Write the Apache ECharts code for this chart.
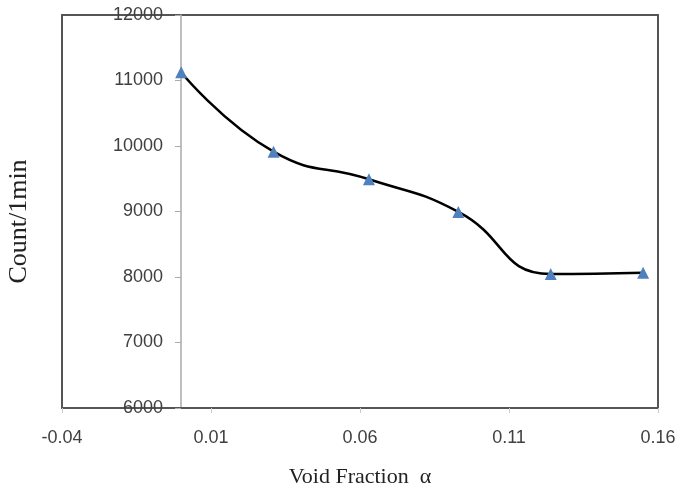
<!DOCTYPE html>
<html>
<head>
    <meta charset="utf-8">
    <title>ECharts</title>
    <script src="https://cdn.jsdelivr.net/npm/echarts@6/dist/echarts.min.js"></script>
</head>
<body style="margin:0;background:#fff">
    <div id="main" style="width:676px;height:488px;"></div>
    <script type="text/javascript">
        var voidFraction = [0, 0.031, 0.063, 0.093, 0.124, 0.155];
        var counts = [11126, 9913, 9492, 8994, 8045, 8065];
        var xTicks = [-0.04, 0.01, 0.06, 0.11, 0.16];

        var myChart = echarts.init(document.getElementById('main'));

        var labelFont = {
            color: '#404040',
            fontFamily: '"Liberation Sans Narrow", "Liberation Sans", sans-serif',
            fontSize: 18
        };

        var points = [];
        for (var i = 0; i < voidFraction.length; i++) {
            points.push([voidFraction[i], counts[i]]);
        }

        option = {
            animation: false,
            grid: {
                left: 62, right: 18, top: 15, bottom: 80,
                outerBoundsMode: 'none',
                containLabel: false,
                show: true,
                borderColor: '#555',
                borderWidth: 2
            },
            xAxis: {
                type: 'value',
                min: -0.04,
                max: 0.16,
                name: 'Void Fraction  \u03b1',
                nameLocation: 'middle',
                nameGap: 58,
                nameTextStyle: {
                    color: '#222',
                    fontFamily: '"Liberation Serif", serif',
                    fontSize: 22
                },
                axisLine: { onZero: false, lineStyle: { color: '#555', width: 2 } },
                axisTick: { show: true, length: 5, customValues: xTicks, lineStyle: { color: '#ccc' } },
                axisLabel: Object.assign({ margin: 21, customValues: xTicks }, labelFont),
                splitLine: { show: false }
            },
            yAxis: {
                type: 'value',
                min: 6000,
                max: 12000,
                interval: 1000,
                // vertical axis crosses at x = 0, like the original
                offset: -119,
                name: 'Count/1min',
                nameLocation: 'middle',
                nameGap: 149,
                nameRotate: 90,
                nameTextStyle: {
                    color: '#222',
                    fontFamily: '"Liberation Serif", serif',
                    fontSize: 26,
                    padding: [0, 0, 0, -20]
                },
                axisLine: { show: true, onZero: false, lineStyle: { color: '#aaa', width: 1.5 } },
                axisTick: { show: true, length: 6, lineStyle: { color: '#aaa' } },
                axisLabel: Object.assign({
                    margin: 18,
                    formatter: function (v) { return String(v); }
                }, labelFont),
                splitLine: { show: false }
            },
            series: [{
                type: 'line',
                data: points,
                smooth: 0.5,
                symbol: 'triangle',
                symbolSize: 12,
                itemStyle: { color: '#4F81BD' },
                lineStyle: { color: '#000', width: 2.5 },
                z: 3
            }]
        };

        myChart.setOption(option);
    </script>
</body>
</html>
